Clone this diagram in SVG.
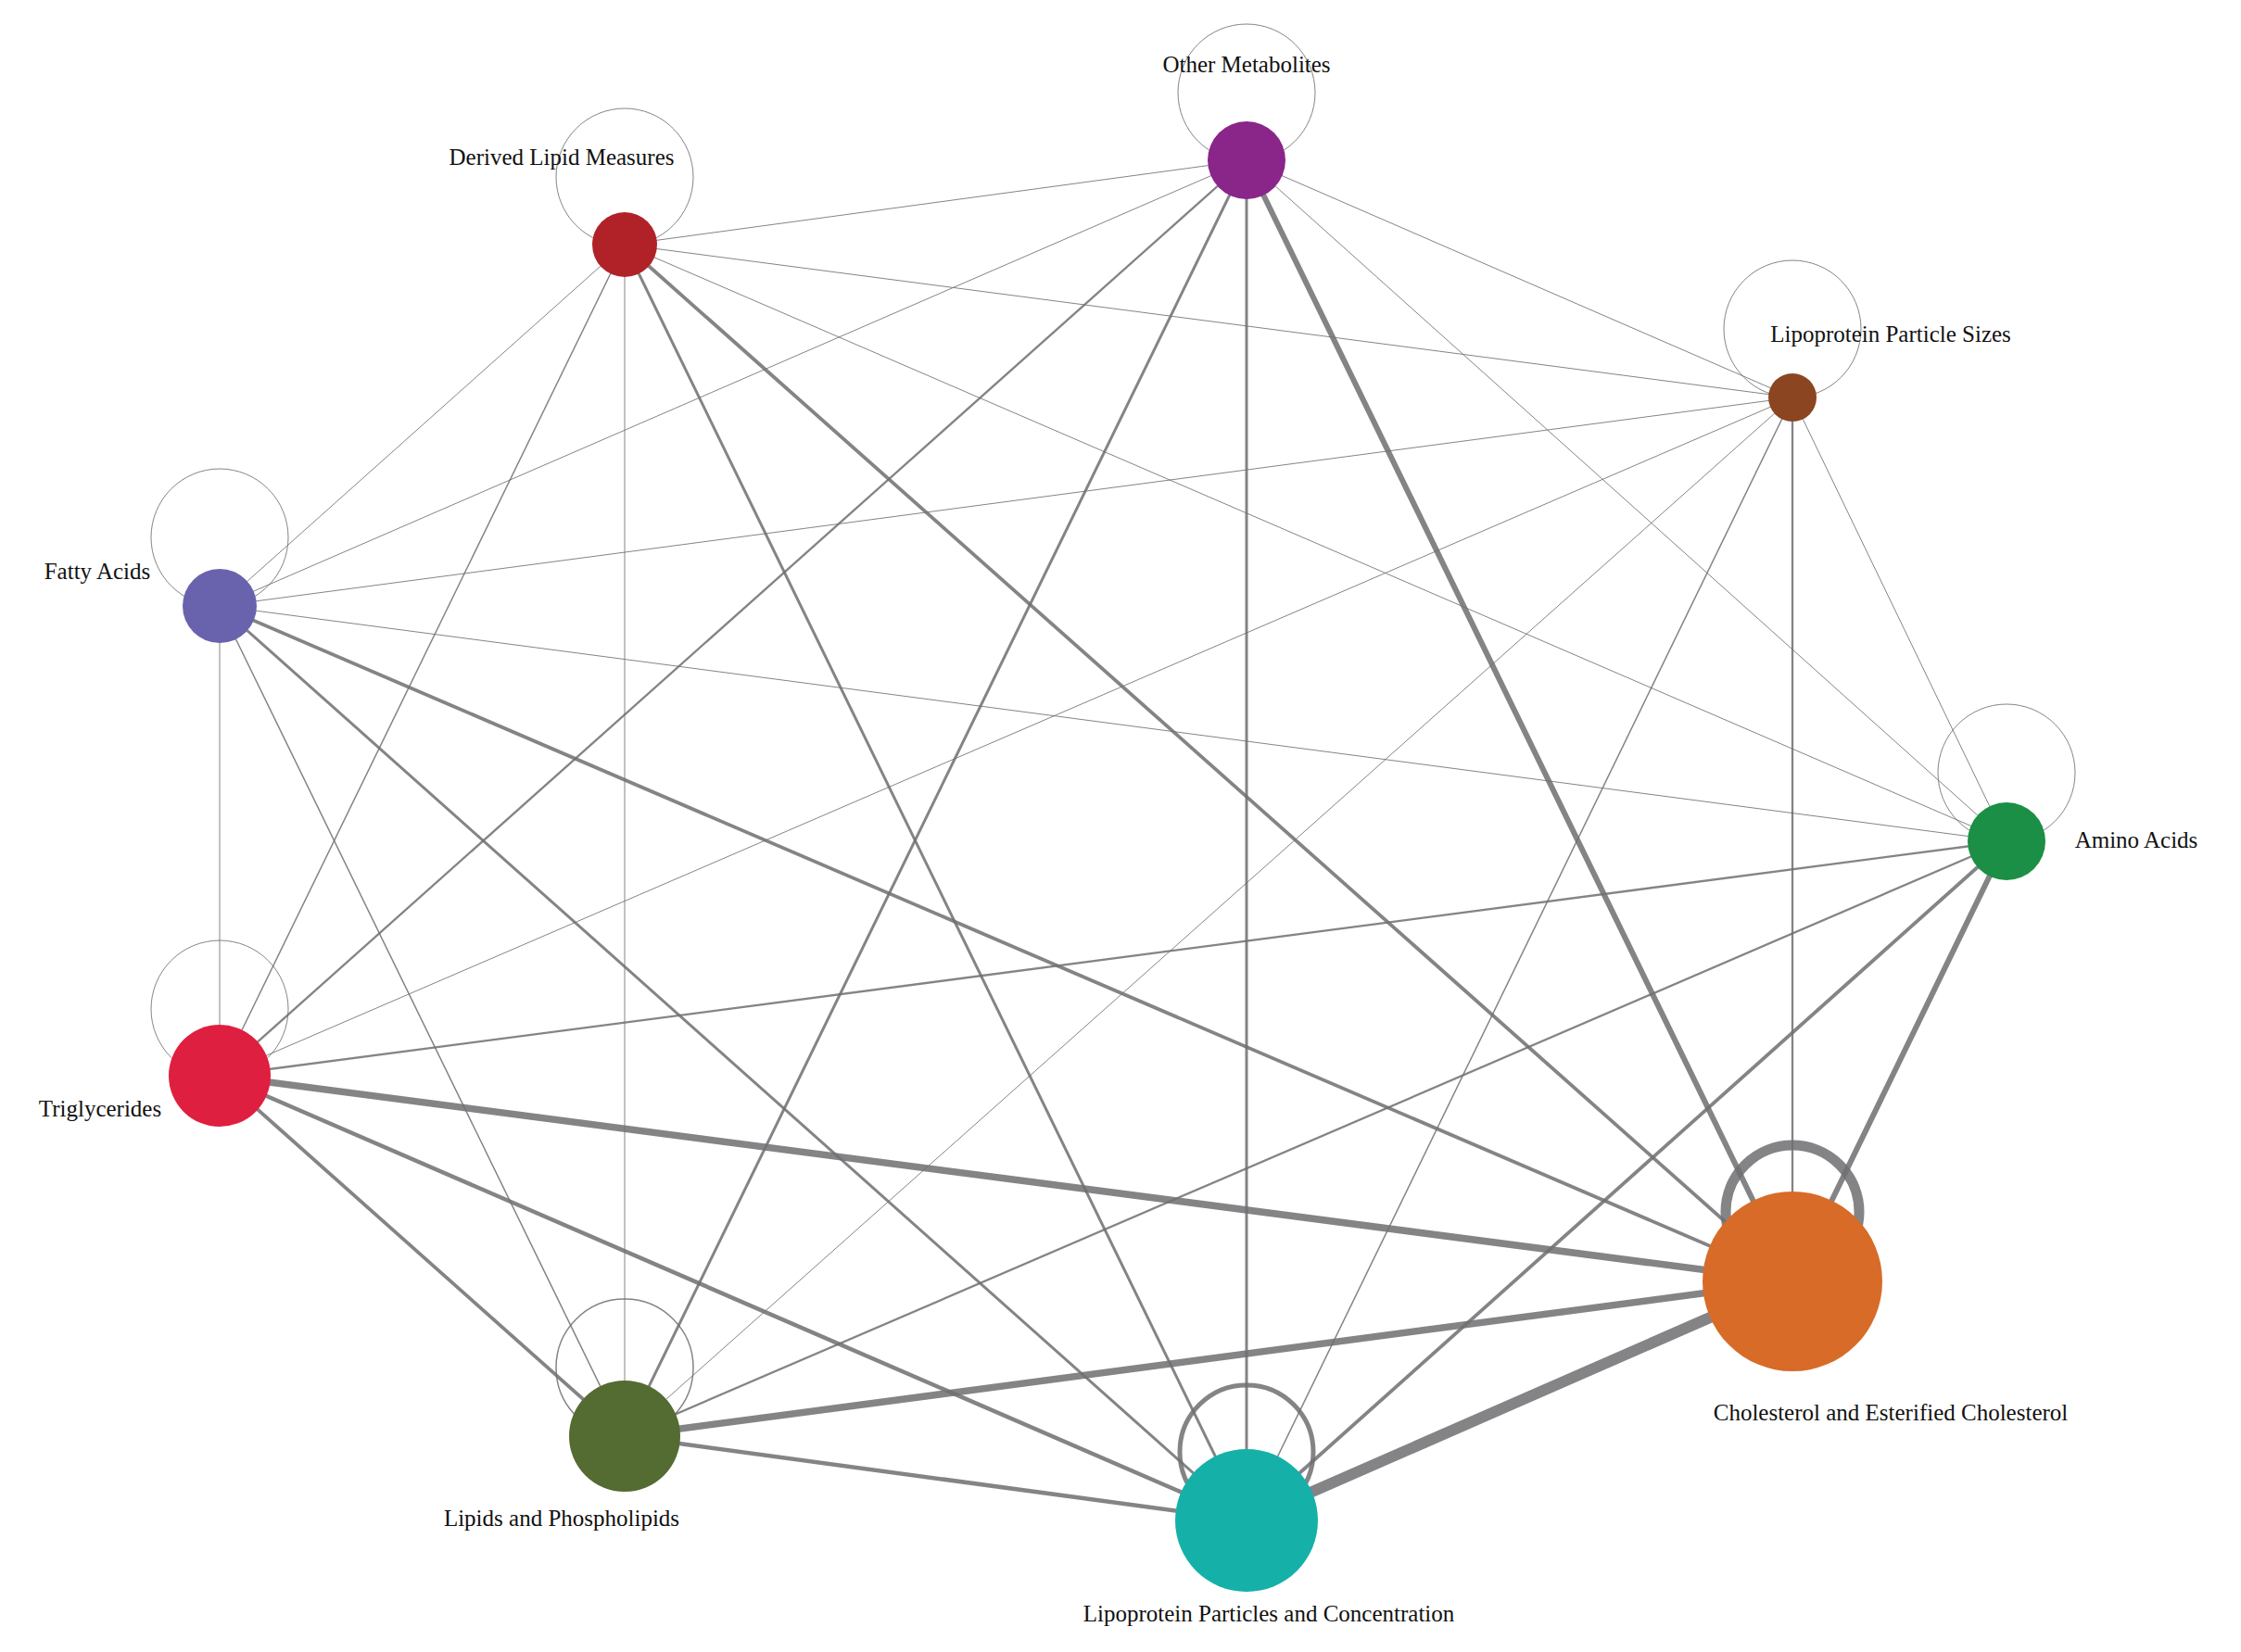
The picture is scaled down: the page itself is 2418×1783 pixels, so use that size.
<svg xmlns="http://www.w3.org/2000/svg" width="2418" height="1783" viewBox="0 0 2418 1783">
<style>
.e{stroke:#6e6e72;stroke-opacity:0.85;fill:none;stroke-linecap:round}
.l{fill:none;stroke:#6e6e72;stroke-opacity:0.85}
text{font-family:"Liberation Serif",serif;font-size:25px;fill:#111}
</style>
<rect width="2418" height="1783" fill="#fff"/>
<g id="connectors">
<line class="e" x1="1345" y1="173" x2="674" y2="264" stroke-width="1"/>
<line class="e" x1="1345" y1="173" x2="1934" y2="429" stroke-width="1"/>
<line class="e" x1="1345" y1="173" x2="237" y2="654" stroke-width="1"/>
<line class="e" x1="1345" y1="173" x2="237" y2="1161" stroke-width="2.3"/>
<line class="e" x1="1345" y1="173" x2="674" y2="1550" stroke-width="3"/>
<line class="e" x1="1345" y1="173" x2="1345" y2="1641" stroke-width="3"/>
<line class="e" x1="1345" y1="173" x2="1934" y2="1383" stroke-width="6"/>
<line class="e" x1="1345" y1="173" x2="2165" y2="908" stroke-width="1"/>
<line class="e" x1="674" y1="264" x2="1934" y2="429" stroke-width="1"/>
<line class="e" x1="674" y1="264" x2="237" y2="654" stroke-width="1"/>
<line class="e" x1="674" y1="264" x2="237" y2="1161" stroke-width="1.5"/>
<line class="e" x1="674" y1="264" x2="674" y2="1550" stroke-width="1"/>
<line class="e" x1="674" y1="264" x2="1345" y2="1641" stroke-width="3"/>
<line class="e" x1="674" y1="264" x2="1934" y2="1383" stroke-width="3.8"/>
<line class="e" x1="674" y1="264" x2="2165" y2="908" stroke-width="1"/>
<line class="e" x1="1934" y1="429" x2="237" y2="654" stroke-width="1"/>
<line class="e" x1="1934" y1="429" x2="237" y2="1161" stroke-width="1"/>
<line class="e" x1="1934" y1="429" x2="674" y2="1550" stroke-width="1"/>
<line class="e" x1="1934" y1="429" x2="1345" y2="1641" stroke-width="1.5"/>
<line class="e" x1="1934" y1="429" x2="1934" y2="1383" stroke-width="2.3"/>
<line class="e" x1="1934" y1="429" x2="2165" y2="908" stroke-width="1"/>
<line class="e" x1="237" y1="654" x2="2165" y2="908" stroke-width="1"/>
<line class="e" x1="237" y1="654" x2="237" y2="1161" stroke-width="1"/>
<line class="e" x1="237" y1="654" x2="674" y2="1550" stroke-width="1.5"/>
<line class="e" x1="237" y1="654" x2="1345" y2="1641" stroke-width="3"/>
<line class="e" x1="237" y1="654" x2="1934" y2="1383" stroke-width="3.8"/>
<line class="e" x1="2165" y1="908" x2="237" y2="1161" stroke-width="2.3"/>
<line class="e" x1="2165" y1="908" x2="674" y2="1550" stroke-width="2.3"/>
<line class="e" x1="2165" y1="908" x2="1345" y2="1641" stroke-width="3.8"/>
<line class="e" x1="2165" y1="908" x2="1934" y2="1383" stroke-width="6"/>
<line class="e" x1="237" y1="1161" x2="1934" y2="1383" stroke-width="7.5"/>
<line class="e" x1="237" y1="1161" x2="674" y2="1550" stroke-width="3.8"/>
<line class="e" x1="237" y1="1161" x2="1345" y2="1641" stroke-width="4.5"/>
<line class="e" x1="674" y1="1550" x2="1934" y2="1383" stroke-width="7.5"/>
<line class="e" x1="674" y1="1550" x2="1345" y2="1641" stroke-width="4.5"/>
<line class="e" x1="1345" y1="1641" x2="1934" y2="1383" stroke-width="12"/>
<circle class="l" cx="1345" cy="100" r="74" stroke-width="1"/>
<circle class="l" cx="674" cy="191" r="74" stroke-width="1"/>
<circle class="l" cx="1934" cy="355" r="74" stroke-width="1"/>
<circle class="l" cx="237" cy="580" r="74" stroke-width="1"/>
<circle class="l" cx="2165" cy="834" r="74" stroke-width="1"/>
<circle class="l" cx="237" cy="1089" r="74" stroke-width="1"/>
<circle class="l" cx="1934" cy="1308" r="72" stroke-width="11"/>
<circle class="l" cx="674" cy="1476" r="74" stroke-width="1.5"/>
<circle class="l" cx="1345" cy="1567" r="72" stroke-width="5"/>
</g>
<g id="n_om"><circle cx="1345" cy="173" r="42" fill="#8a2589"/><text x="1345" y="78" text-anchor="middle">Other Metabolites</text></g>
<g id="n_dl"><circle cx="674" cy="264" r="35" fill="#b02228"/><text x="606" y="178" text-anchor="middle">Derived Lipid Measures</text></g>
<g id="n_ls"><circle cx="1934" cy="429" r="26" fill="#8b4520"/><text x="2040" y="369" text-anchor="middle">Lipoprotein Particle Sizes</text></g>
<g id="n_fa"><circle cx="237" cy="654" r="40" fill="#6963ae"/><text x="105" y="625" text-anchor="middle">Fatty Acids</text></g>
<g id="n_aa"><circle cx="2165" cy="908" r="42" fill="#1b8f45"/><text x="2305" y="915" text-anchor="middle">Amino Acids</text></g>
<g id="n_tg"><circle cx="237" cy="1161" r="55" fill="#df1f3f"/><text x="108" y="1205" text-anchor="middle">Triglycerides</text></g>
<g id="n_ch"><circle cx="1934" cy="1383" r="97" fill="#d76b27"/><text x="2040" y="1533" text-anchor="middle">Cholesterol and Esterified Cholesterol</text></g>
<g id="n_lp"><circle cx="674" cy="1550" r="60" fill="#546b31"/><text x="606" y="1647" text-anchor="middle">Lipids and Phospholipids</text></g>
<g id="n_lpc"><circle cx="1345" cy="1641" r="77" fill="#15b1a8"/><text x="1369" y="1750" text-anchor="middle">Lipoprotein Particles and Concentration</text></g>
</svg>
